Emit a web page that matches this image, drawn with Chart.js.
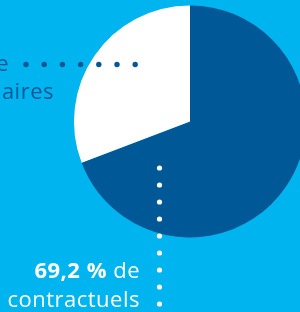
<!DOCTYPE html>
<html>
<head>
<meta charset="utf-8">
<script src="https://cdn.jsdelivr.net/npm/chart.js@4/dist/chart.umd.min.js"></script>
<style>
  html, body { margin: 0; padding: 0; width: 300px; height: 312px; overflow: hidden; background: #00B4EF; }
  #chart { position: absolute; left: 0; top: 0; }
</style>
</head>
<body>
<canvas id="chart" width="320" height="312"></canvas>
<script>
const categories = ['contractuels', 'fonctionnaires'];
const shares = [69.2, 30.8];
const sliceColors = ['#005897', '#ffffff'];

const BG = '#00B4EF';
const DARK = '#005897';
const FONT = '"Open Sans", sans-serif';

function formatShare(v) {
  return v.toFixed(1).replace('.', ',') + ' %';
}

// labels + dotted leader lines drawn on top of the pie
const labelPlugin = {
  id: 'labels',
  afterDraw(chart) {
    const ctx = chart.ctx;
    ctx.save();
    ctx.letterSpacing = '0.5px';

    // top label (runs off the left edge in the original)
    ctx.fillStyle = DARK;
    ctx.textAlign = 'right';
    ctx.textBaseline = 'alphabetic';
    ctx.font = '400 22px ' + FONT;
    ctx.fillText(' de', 9, 71);
    ctx.font = '700 22px ' + FONT;
    const w = ctx.measureText(' de').width;
    ctx.fillText(formatShare(shares[1]), 9 - w, 71);
    ctx.font = '400 22px ' + FONT;
    ctx.fillText(categories[1], 54, 99);

    // dots to the white slice
    for (let x = 26; x <= 136; x += 18.2) {
      ctx.beginPath();
      ctx.arc(x, 64.5, 2.7, 0, Math.PI * 2);
      ctx.fill();
    }

    // bottom label
    ctx.fillStyle = '#ffffff';
    ctx.font = '400 22px ' + FONT;
    ctx.fillText(' de', 140, 278);
    const w2 = ctx.measureText(' de').width;
    ctx.font = '700 22px ' + FONT;
    ctx.fillText(formatShare(shares[0]), 140 - w2, 278);
    ctx.font = '400 22px ' + FONT;
    ctx.fillText(categories[0], 140, 307);

    for (let y = 168; y <= 305; y += 17) {
      ctx.beginPath();
      ctx.arc(159.5, y, 2.6, 0, Math.PI * 2);
      ctx.fill();
    }
    ctx.restore();
  }
};

new Chart(document.getElementById('chart').getContext('2d'), {
  type: 'pie',
  data: {
    labels: categories,
    datasets: [{
      data: shares,
      backgroundColor: sliceColors,
      borderWidth: 0,
      hoverOffset: 0
    }]
  },
  options: {
    responsive: false,
    animation: false,
    layout: {
      padding: { left: 74, right: 14, top: 5.5, bottom: 74.5 }
    },
    plugins: {
      legend: { display: false },
      tooltip: { enabled: false }
    }
  },
  plugins: [labelPlugin]
});
</script>
</body>
</html>
